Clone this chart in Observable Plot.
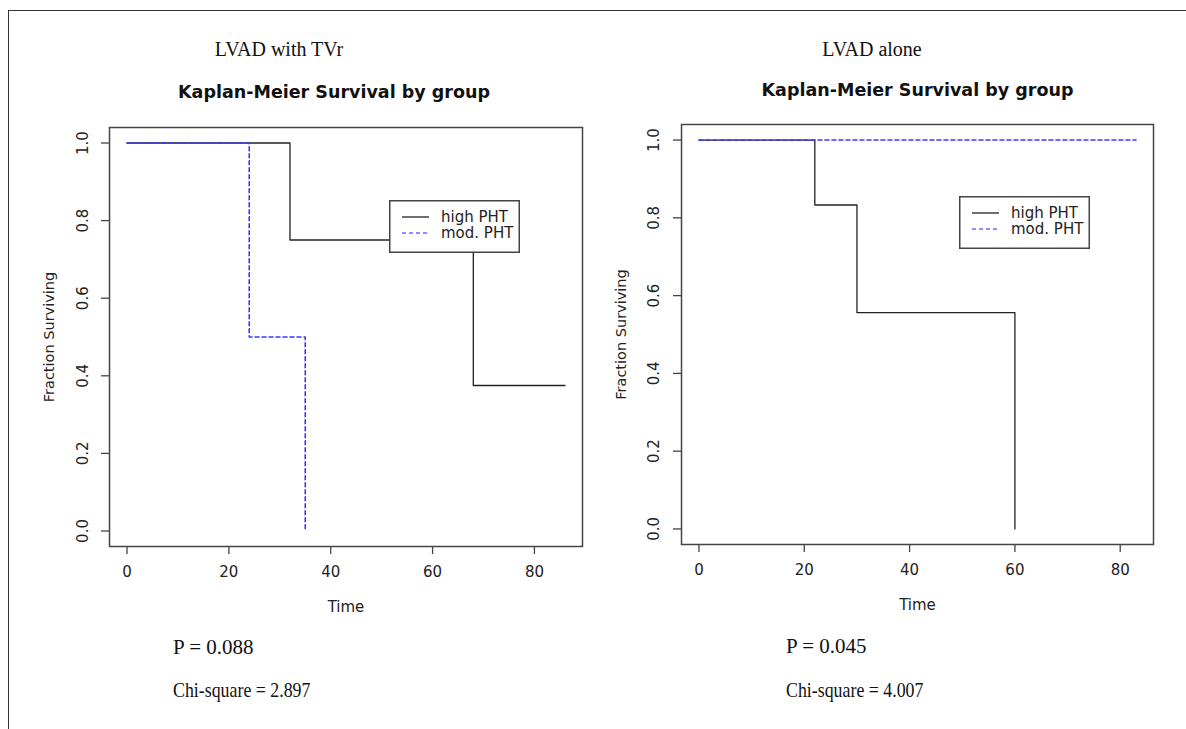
<!DOCTYPE html>
<html>
<head>
<meta charset="utf-8">
<script src="https://cdn.jsdelivr.net/npm/d3@7"></script>
<script src="https://cdn.jsdelivr.net/npm/@observablehq/plot@0.6"></script>
<style>
  html, body { margin: 0; padding: 0; background: #fff; }
  #wrap { position: relative; width: 1186px; height: 729px; overflow: hidden; background: #fff; }
  #border { position: absolute; left: 8px; top: 10px; width: 1200px; height: 740px;
            border-top: 1.5px solid #333; border-left: 1.5px solid #333; }
  .panel { position: absolute; top: 0; }
  .serif { position: absolute; font-family: "Liberation Serif", "Times New Roman", serif; color: #111; white-space: nowrap; }
  .head { font-size: 20px; transform: translate(-50%, -50%); }
  .stat { font-size: 21px; transform-origin: 0 50%; }
  .legend { position: absolute; }
</style>
</head>
<body>
<div id="wrap">
  <div id="border"></div>
</div>
<script>
// ---- data ----
const groups = ["high PHT", "mod. PHT"];
const xTicks = [0, 20, 40, 60, 80];
const yTicks = [0, 0.2, 0.4, 0.6, 0.8, 1.0];
const yTickLabels = ["0.0", "0.2", "0.4", "0.6", "0.8", "1.0"];

// LVAD with TVr
const tvrHighTime = [0, 32, 68, 86];
const tvrHighSurv = [1, 0.75, 0.375, 0.375];
const tvrModTime  = [0, 24, 35];
const tvrModSurv  = [1, 0.5, 0];

// LVAD alone
const aloneHighTime = [0, 22, 30, 60];
const aloneHighSurv = [1, 0.833, 0.556, 0];
const aloneModTime  = [0, 83];
const aloneModSurv  = [1, 1];

const panelTitles = ["LVAD with TVr", "LVAD alone"];
const plotTitle = "Kaplan-Meier Survival by group";
const pValues = ["P = 0.088", "P = 0.045"];
const chiValues = ["Chi-square = 2.897", "Chi-square = 4.007"];

// ---- helpers ----
const toRows = (times, surv, group) => times.map((t, i) => ({time: t, surv: surv[i], group}));
const rExtent = (lo, hi) => { const d = (hi - lo) * 0.04; return [lo - d, hi + d]; };

function panel({high, mod, width, mL, mR, mT, mB, tickDx, titleDx, titleDy}) {
  const all = high.concat(mod);
  const xDomain = rExtent(0, d3.max(all, d => d.time));
  const yDomain = rExtent(0, 1);
  return Plot.plot({
    width, height: 729,
    marginLeft: mL, marginRight: mR, marginTop: mT, marginBottom: mB,
    x: {domain: xDomain, axis: null},
    y: {domain: yDomain, axis: null},
    style: {fontFamily: "DejaVu Sans", fontSize: "15px", color: "#222", background: "transparent", overflow: "visible"},
    marks: [
      Plot.axisX({ticks: xTicks, tickSize: 8, tickFormat: () => "", label: null, stroke: "#444", strokeWidth: 1.3}),
      Plot.axisY({ticks: yTicks, tickSize: 8, tickFormat: () => "", label: null, stroke: "#444", strokeWidth: 1.3}),
      Plot.text(xTicks, {x: d => d, frameAnchor: "bottom", dy: 26, text: d => String(d),
        textAnchor: "middle", lineAnchor: "middle", fill: "#222"}),
      Plot.text(yTicks, {y: d => d, frameAnchor: "left", dx: tickDx, rotate: -90, text: (d, i) => yTickLabels[i],
        textAnchor: "middle", lineAnchor: "middle", fill: "#222"}),
      Plot.text(["Time"], {frameAnchor: "bottom", dy: 61, text: d => d,
        textAnchor: "middle", lineAnchor: "middle", fill: "#222"}),
      Plot.text(["Fraction Surviving"], {frameAnchor: "left", dx: -60, rotate: -90, text: d => d,
        textAnchor: "middle", lineAnchor: "middle", fontSize: 14.5, fill: "#222"}),
      Plot.text([plotTitle], {frameAnchor: "top", dx: titleDx, dy: titleDy, text: d => d,
        textAnchor: "middle", lineAnchor: "middle", fontWeight: "bold", fontSize: 17.5, fill: "#111"}),
      Plot.line(high, {x: "time", y: "surv", curve: "step-after", stroke: "#222", strokeWidth: 1.3}),
      Plot.line(mod, {x: "time", y: "surv", curve: "step-after", stroke: "#3a3aff", strokeWidth: 1.6, strokeDasharray: "4,3"}),
      Plot.frame({stroke: "#444", strokeWidth: 1.5})
    ]
  });
}

function legendSvg(left, top) {
  const ns = "http://www.w3.org/2000/svg";
  const svg = document.createElementNS(ns, "svg");
  svg.setAttribute("width", 132); svg.setAttribute("height", 54);
  svg.setAttribute("class", "legend");
  svg.style.left = left + "px"; svg.style.top = top + "px";
  const rect = document.createElementNS(ns, "rect");
  Object.entries({x: 0.75, y: 0.75, width: 129.5, height: 51.5, fill: "#fff", stroke: "#444", "stroke-width": 1.5})
    .forEach(([k, v]) => rect.setAttribute(k, v));
  svg.appendChild(rect);
  groups.forEach((g, i) => {
    const yy = 17 + i * 16;
    const ln = document.createElementNS(ns, "line");
    Object.entries({x1: 13, x2: 40, y1: yy, y2: yy, stroke: i ? "#6a6aff" : "#222", "stroke-width": i ? 1.6 : 1.3,
      "stroke-dasharray": i ? "4,3" : "none"}).forEach(([k, v]) => ln.setAttribute(k, v));
    svg.appendChild(ln);
    const tx = document.createElementNS(ns, "text");
    Object.entries({x: 52, y: yy, "dominant-baseline": "central", "font-family": "DejaVu Sans", "font-size": 15, fill: "#222"})
      .forEach(([k, v]) => tx.setAttribute(k, v));
    tx.textContent = g;
    svg.appendChild(tx);
  });
  return svg;
}

function serifText(cls, text, x, y, sx) {
  const d = document.createElement("div");
  d.className = "serif " + cls;
  d.style.left = x + "px"; d.style.top = y + "px";
  if (sx !== undefined) d.style.transform = `translateY(-50%) scaleX(${sx})`;
  d.textContent = text;
  return d;
}

const wrap = document.getElementById("wrap");

const p1 = panel({
  high: toRows(tvrHighTime, tvrHighSurv, groups[0]),
  mod: toRows(tvrModTime, tvrModSurv, groups[1]),
  width: 600, mL: 109, mR: 18, mT: 127, mB: 183, tickDx: -26, titleDx: -12, titleDy: -35
});
p1.classList.add("panel"); p1.style.left = "0px";
wrap.appendChild(p1);

const p2 = panel({
  high: toRows(aloneHighTime, aloneHighSurv, groups[0]),
  mod: toRows(aloneModTime, aloneModSurv, groups[1]),
  width: 593, mL: 88, mR: 33, mT: 124, mB: 185, tickDx: -27, titleDx: 0, titleDy: -34
});
p2.classList.add("panel"); p2.style.left = "593px";
wrap.appendChild(p2);

wrap.appendChild(legendSvg(389, 200));
wrap.appendChild(legendSvg(959, 196));

wrap.appendChild(serifText("head", panelTitles[0], 279, 49));
wrap.appendChild(serifText("head", panelTitles[1], 872, 49));
wrap.appendChild(serifText("stat", pValues[0], 173, 647, 1.0));
wrap.appendChild(serifText("stat", chiValues[0], 173, 690, 0.85));
wrap.appendChild(serifText("stat", pValues[1], 786, 646, 1.0));
wrap.appendChild(serifText("stat", chiValues[1], 786, 690, 0.85));
</script>
</body>
</html>
